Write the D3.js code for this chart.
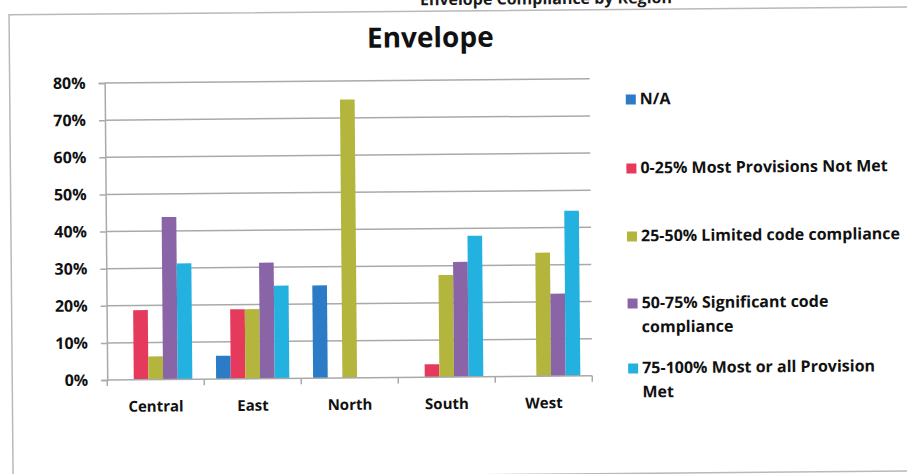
<!DOCTYPE html>
<html>
<head>
<meta charset="utf-8">
<script src="https://cdn.jsdelivr.net/npm/d3@7"></script>
<style>
  html, body { margin: 0; padding: 0; background: #fff; }
  svg { display: block; font-family: "Open Sans", "Liberation Sans", sans-serif; }
</style>
</head>
<body>
<svg id="chart" width="907" height="474"></svg>
<script>
// data
const regions = ["Central", "East", "North", "South", "West"];
const seriesNames = [
    "N/A",
    "0-25% Most Provisions Not Met",
    "25-50% Limited code compliance",
    "50-75% Significant code compliance",
    "75-100% Most or all Provision Met"
];
const naValues = [0, 0.0625, 0.25, 0, 0];
const notMetValues = [0.1875, 0.1875, 0, 0.035, 0];
const limitedValues = [0.0625, 0.1875, 0.75, 0.275, 0.333];
const significantValues = [0.4375, 0.3125, 0, 0.31, 0.222];
const mostMetValues = [0.3125, 0.25, 0, 0.38, 0.445];
const yTicks = [0, 0.1, 0.2, 0.3, 0.4, 0.5, 0.6, 0.7, 0.8];
const colors = ["#2c7bc6", "#e63a5c", "#b4b53c", "#8965a8", "#23b1df"];

const series = [naValues, notMetValues, limitedValues, significantValues, mostMetValues];

const svg = d3.select("#chart");
// the scan is tilted a little, so the whole page is turned to match
const page = svg.append("g").attr("transform", "rotate(-0.5 453 237)");

// heading from the page above, cut off by the chart box
page.append("text")
    .attr("x", 548).attr("y", 5)
    .attr("text-anchor", "middle")
    .style("font-size", "16px").style("font-weight", 700).style("fill", "#1a1a1a")
    .text("Envelope Compliance by Region");

page.append("rect")
    .attr("x", 11).attr("y", 11)
    .attr("width", 940).attr("height", 464)
    .style("fill", "#fff")
    .style("stroke", "#b9b9b9")
    .style("stroke-width", 1.5);

page.append("text")
    .attr("x", 432).attr("y", 47)
    .attr("text-anchor", "middle")
    .style("font-size", "28px").style("font-weight", 700).style("fill", "#111")
    .text("Envelope");

const plot = {left: 106, right: 591, top: 80, bottom: 377};

const x = d3.scaleBand()
    .domain(regions)
    .range([plot.left, plot.right])
    .paddingInner(0.245)
    .paddingOuter(0.1225);

const xInner = d3.scaleBand()
    .domain(d3.range(series.length))
    .range([0, x.bandwidth()]);

const y = d3.scaleLinear()
    .domain([0, 0.8])
    .range([plot.bottom, plot.top]);

// gridlines
page.append("g")
    .selectAll("line")
    .data(yTicks.slice(1))
    .join("line")
    .attr("x1", plot.left).attr("x2", plot.right)
    .attr("y1", d => y(d)).attr("y2", d => y(d))
    .style("stroke", "#a9a9a9")
    .style("stroke-width", 1.5);

// bars
const groups = page.append("g")
    .selectAll("g")
    .data(series)
    .join("g")
    .style("fill", (d, i) => colors[i]);

groups.selectAll("rect")
    .data((values, si) => values.map((v, ri) => ({v, si, region: regions[ri]})))
    .join("rect")
    .attr("x", d => x(d.region) + xInner(d.si))
    .attr("width", xInner.bandwidth())
    .attr("y", d => y(d.v))
    .attr("height", d => y(0) - y(d.v));

// y axis
const yAxis = page.append("g")
    .attr("transform", `translate(${plot.left},0)`)
    .call(d3.axisLeft(y).tickValues(yTicks).tickFormat(d3.format(".0%")).tickSize(6).tickPadding(13));
yAxis.select(".domain").style("stroke", "#a9a9a9").style("stroke-width", 1.5);
yAxis.selectAll(".tick line").style("stroke", "#a9a9a9").style("stroke-width", 1.5);
yAxis.selectAll(".tick text")
    .style("font-family", "\"Open Sans\", sans-serif")
    .style("font-size", "16px").style("font-weight", 700).style("fill", "#111");

// x axis with ticks between categories
const xAxis = page.append("g")
    .attr("transform", `translate(0,${plot.bottom})`);
xAxis.append("line")
    .attr("x1", plot.left).attr("x2", plot.right)
    .style("stroke", "#a9a9a9").style("stroke-width", 1.5);
const bounds = regions.map(r => x(r) - x.step() * x.paddingInner() / 2).concat([plot.right]);
xAxis.selectAll("line.tick")
    .data(bounds)
    .join("line")
    .attr("class", "tick")
    .attr("x1", d => d).attr("x2", d => d)
    .attr("y1", 0).attr("y2", 6)
    .style("stroke", "#a9a9a9").style("stroke-width", 1.5);
xAxis.selectAll("text")
    .data(regions)
    .join("text")
    .attr("x", d => x(d) + x.bandwidth() / 2)
    .attr("y", 32)
    .attr("text-anchor", "middle")
    .style("font-size", "15px").style("font-weight", 700).style("fill", "#111")
    .text(d => d);

// legend
const legendRows = [
    {lines: ["N/A"], y: 96},
    {lines: ["0-25% Most Provisions Not Met"], y: 165},
    {lines: ["25-50% Limited code compliance"], y: 233},
    {lines: ["50-75% Significant code", "compliance"], y: 300},
    {lines: ["75-100% Most or all Provision", "Met"], y: 365}
];

const legend = page.append("g")
    .selectAll("g")
    .data(legendRows)
    .join("g")
    .attr("transform", d => `translate(627,${d.y})`);

legend.append("rect")
    .attr("width", 10).attr("height", 10)
    .style("fill", (d, i) => colors[i]);

legend.append("text")
    .attr("x", 14)
    .style("font-size", "16px").style("font-weight", 700).style("fill", "#111")
    .selectAll("tspan")
    .data(d => d.lines)
    .join("tspan")
    .attr("x", 14)
    .attr("y", (d, i) => 10 + i * 24)
    .text(d => d);
</script>
</body>
</html>
